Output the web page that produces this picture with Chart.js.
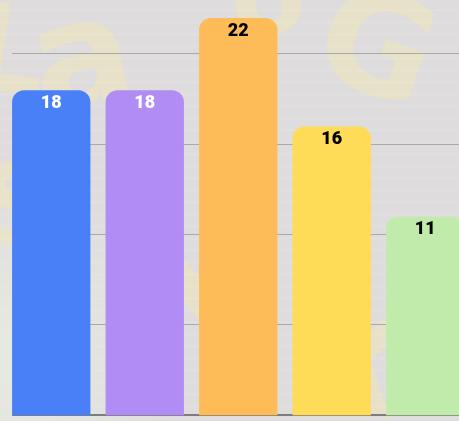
<!DOCTYPE html>
<html>
<head>
<meta charset="utf-8">
<script src="https://cdn.jsdelivr.net/npm/chart.js@4.4.1/dist/chart.umd.min.js"></script>
<style>
  html, body { margin: 0; padding: 0; width: 459px; height: 421px; overflow: hidden; }
  body {
    position: relative;
    background:
      radial-gradient(ellipse 160px 200px at 20px 360px, rgba(232,236,226,0.9), rgba(232,236,226,0)),
      repeating-linear-gradient(180deg, #dedcdc 0px, #dedcdc 9px, #e2e1e1 10px, #dedcdc 12px),
      #dddbdb;
  }
  .bg-letter {
    position: absolute;
    font-family: "DejaVu Sans", sans-serif;
    font-weight: bold;
    color: rgba(250, 236, 160, 0.32);
    line-height: 1;
    pointer-events: none;
  }
  #wrap { position: absolute; left: 0; top: 0; width: 472px; height: 421px; }
</style>
</head>
<body>
<div class="bg-letter" style="left:30px; top:-20px; font-size:150px; transform:rotate(-12deg);">a</div>
<div class="bg-letter" style="left:-30px; top:-10px; font-size:120px; transform:rotate(8deg);">L</div>
<div class="bg-letter" style="left:320px; top:-25px; font-size:140px; transform:rotate(20deg);">G</div>
<div class="bg-letter" style="left:230px; top:-60px; font-size:110px; transform:rotate(-5deg);">o</div>
<div class="bg-letter" style="left:-25px; top:150px; font-size:110px; transform:rotate(10deg);">S</div>
<div class="bg-letter" style="left:150px; top:200px; font-size:160px; transform:rotate(-20deg);">V</div>
<div class="bg-letter" style="left:300px; top:290px; font-size:140px; transform:rotate(15deg);">X</div>
<div id="wrap"><canvas id="chart"></canvas></div>
<script>
  // Dados do gráfico
  const categories = ['Item 1', 'Item 2', 'Item 3', 'Item 4', 'Item 5'];
  const values = [18, 18, 22, 16, 11];
  const gridValues = [0, 5, 10, 15, 20];

  const barColors = ['#4a80f7', '#b08cf4', '#febc59', '#ffdc58', '#c0ebaa'];
  const labelColors = ['#ffffff', '#ffffff', '#000000', '#000000', '#000000'];

  // Linhas de grade começando na borda do primeiro bar
  const gridPlugin = {
    id: 'gridFromBar',
    beforeDatasetsDraw(chart) {
      const { ctx } = chart;
      const y = chart.scales.y;
      const first = chart.getDatasetMeta(0).data[0];
      const x0 = first.x - first.width / 2;
      ctx.save();
      gridValues.forEach(v => {
        const py = Math.round(y.getPixelForValue(v)) - 0.5;
        ctx.beginPath();
        ctx.strokeStyle = v === 0 ? '#7d7d7d' : '#aaaaaa';
        ctx.lineWidth = v === 0 ? 2 : 1;
        ctx.moveTo(x0, v === 0 ? py - 0.5 : py);
        ctx.lineTo(chart.width, v === 0 ? py - 0.5 : py);
        ctx.stroke();
      });
      ctx.restore();
    }
  };

  // Rótulos de valor dentro do topo de cada barra
  const labelPlugin = {
    id: 'barLabels',
    afterDatasetsDraw(chart) {
      const { ctx } = chart;
      const meta = chart.getDatasetMeta(0);
      ctx.save();
      ctx.font = '900 18px Roboto, sans-serif';
      ctx.textAlign = 'center';
      ctx.textBaseline = 'middle';
      meta.data.forEach((bar, i) => {
        ctx.fillStyle = labelColors[i];
        ctx.fillText(String(values[i]), bar.x, bar.y + 13);
      });
      ctx.restore();
    }
  };

  new Chart(document.getElementById('chart'), {
    type: 'bar',
    data: {
      labels: categories,
      datasets: [{
        data: values,
        backgroundColor: barColors,
        borderRadius: 12,
        borderSkipped: 'start',
        categoryPercentage: 1,
        barPercentage: 0.838
      }]
    },
    options: {
      responsive: true,
      maintainAspectRatio: false,
      animation: false,
      layout: { padding: { left: 4.5, right: 0, top: 0, bottom: 5.5 } },
      plugins: { legend: { display: false }, tooltip: { enabled: false } },
      scales: {
        x: { display: false },
        y: { display: false, min: 0, max: 23 }
      }
    },
    plugins: [gridPlugin, labelPlugin]
  });
</script>
</body>
</html>
